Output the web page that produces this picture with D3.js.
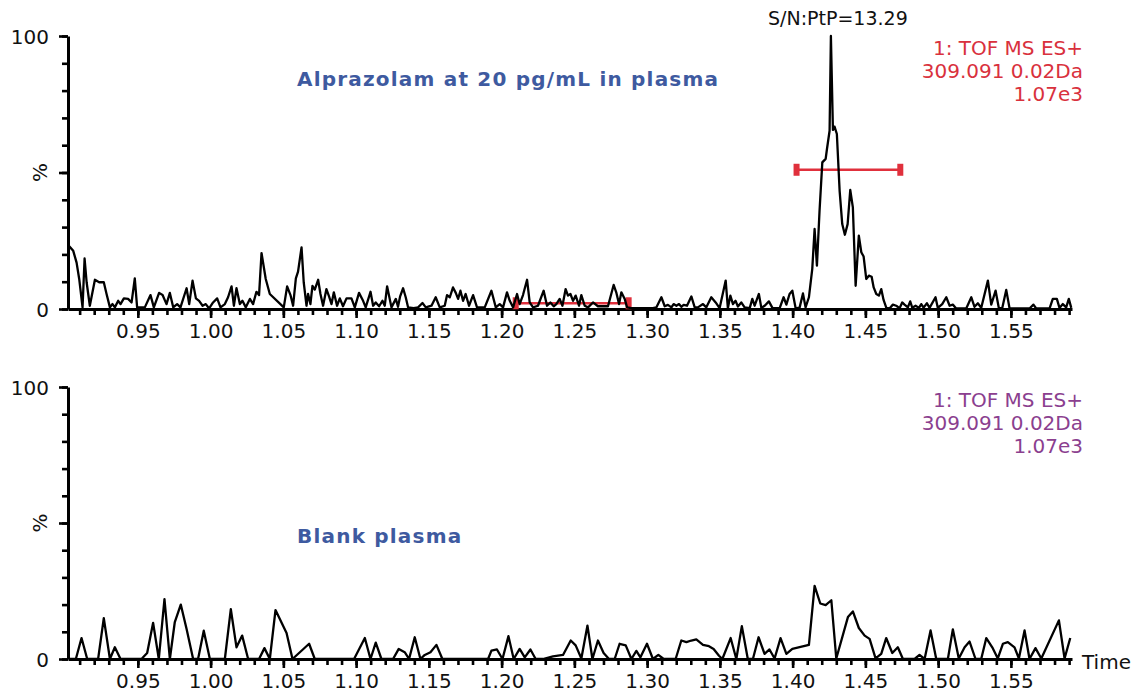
<!DOCTYPE html>
<html>
<head>
<meta charset="utf-8">
<script src="https://cdn.jsdelivr.net/npm/d3@7/dist/d3.min.js"></script>
<style>
body { margin: 0; background: #fff; }
svg { display: block; font-family: 'DejaVu Sans', Verdana, sans-serif; }
</style>
</head>
<body>
<svg></svg>
<script>
// retention time (min) and relative intensity (%)
const sampleTime = [0.9021,0.9056,0.9079,0.9097,0.9120,0.9134,0.9148,0.9170,0.9205,0.9234,0.9266,0.9285,0.9308,0.9326,0.9342,0.9365,0.9381,0.9404,0.9433,0.9457,0.9479,0.9495,0.9548,0.9587,0.9610,0.9646,0.9670,0.9697,0.9720,0.9743,0.9770,0.9793,0.9835,0.9853,0.9876,0.9899,0.9921,0.9945,0.9967,0.9990,1.0017,1.0045,1.0068,1.0098,1.0120,1.0144,1.0160,1.0178,1.0201,1.0219,1.0242,1.0270,1.0292,1.0315,1.0333,1.0350,1.0379,1.0407,1.0503,1.0526,1.0549,1.0567,1.0586,1.0601,1.0625,1.0640,1.0659,1.0670,1.0686,1.0700,1.0716,1.0739,1.0755,1.0773,1.0796,1.0814,1.0831,1.0847,1.0869,1.0888,1.0910,1.0934,1.0968,1.0991,1.1020,1.1048,1.1066,1.1099,1.1117,1.1135,1.1158,1.1181,1.1197,1.1213,1.1243,1.1273,1.1288,1.1302,1.1323,1.1341,1.1357,1.1396,1.1426,1.1456,1.1479,1.1518,1.1547,1.1575,1.1609,1.1625,1.1644,1.1666,1.1685,1.1701,1.1717,1.1735,1.1753,1.1776,1.1804,1.1831,1.1884,1.1930,1.1960,1.1987,1.2010,1.2037,1.2056,1.2079,1.2106,1.2124,1.2147,1.2175,1.2193,1.2216,1.2250,1.2289,1.2312,1.2335,1.2358,1.2376,1.2399,1.2418,1.2440,1.2456,1.2473,1.2491,1.2509,1.2532,1.2548,1.2571,1.2594,1.2628,1.2662,1.2697,1.2731,1.2770,1.2789,1.2807,1.2823,1.2846,1.2862,1.2892,1.3040,1.3064,1.3098,1.3121,1.3143,1.3167,1.3182,1.3201,1.3219,1.3235,1.3251,1.3274,1.3304,1.3327,1.3349,1.3384,1.3407,1.3441,1.3471,1.3498,1.3540,1.3555,1.3572,1.3590,1.3608,1.3624,1.3647,1.3670,1.3705,1.3723,1.3739,1.3768,1.3785,1.3808,1.3837,1.3861,1.3911,1.3938,1.3957,1.3979,1.3998,1.4021,1.4048,1.4071,1.4089,1.4112,1.4135,1.4151,1.4167,1.4185,1.4204,1.4227,1.4236,1.4254,1.4263,1.4277,1.4288,1.4304,1.4323,1.4341,1.4359,1.4378,1.4396,1.4414,1.4433,1.4455,1.4472,1.4488,1.4506,1.4524,1.4543,1.4557,1.4575,1.4593,1.4609,1.4625,1.4644,1.4666,1.4689,1.4712,1.4735,1.4753,1.4769,1.4792,1.4808,1.4822,1.4845,1.4868,1.4884,1.4900,1.4923,1.4941,1.4982,1.4998,1.5028,1.5056,1.5079,1.5101,1.5124,1.5193,1.5228,1.5250,1.5273,1.5296,1.5342,1.5365,1.5395,1.5417,1.5440,1.5468,1.5491,1.5628,1.5655,1.5674,1.5766,1.5788,1.5816,1.5834,1.5857,1.5880,1.5898,1.5915];
const samplePct = [23.4,21.3,17,11,0.6,18.5,9.8,1.2,10.7,9.8,9.8,5.5,0.6,1.8,0.6,3,1.8,3.9,3.7,2.4,11.2,0.6,0.6,5.1,0.6,5.9,5.1,1.8,5.9,0.6,1.8,0.6,7.6,1.8,10.4,3.9,3,1.2,1.8,0.2,2.4,3.9,0.6,1.8,4.3,8.3,1.2,7.6,1.8,3,0.6,3.7,1.8,6.3,5.1,20.5,11,5.5,0.6,8.3,5.1,1.2,11.2,13.7,22.6,9.8,1.2,5.5,1.8,8.5,7.1,10.7,5.5,1.2,7.3,4.6,1.8,6.1,1.2,3.9,1,3.9,3.9,0.6,5.9,3,0.6,6.3,1.2,2.4,1,3,1.2,8.3,0.6,3.7,0.8,4.5,7.6,4.3,0.6,0.3,0.6,2.2,0.6,1.2,4.3,0.6,1.2,5.1,4.3,7.9,5.9,3.7,6.7,3,5.5,1.2,5.1,0.6,0.6,6.7,0.6,1.8,0.6,6.1,3,0.6,5.5,1.8,5.1,10.7,2.4,0.6,1.2,6.7,1.2,2.4,1,1.8,3.7,1.2,7.3,4.9,5.5,3,4.9,1.2,5.1,1.2,0.6,2.4,1,1,1,8.8,5.9,1.8,6.1,3.7,0.6,0.3,0.3,0.6,4.3,1,1.5,0.6,1.8,1.2,1.8,0.8,1.5,1.2,4.6,0.6,0.6,1.8,0.6,4.3,2.4,0.3,10.4,0.3,4.9,1.8,3,0.9,2.4,0.6,0.3,3.7,1.2,5.5,0.4,1.2,2.8,0.4,0.3,4.3,1.6,5.5,6.7,0.2,0.5,5.7,0.6,4.3,14.7,29.3,15.9,36,53.7,55,58.6,65.3,100,65.6,66.8,64.1,43.3,31.1,27.2,31.1,43.6,37.2,8.5,26.9,20.8,19.2,11,12.2,11.8,7.9,5.5,4.9,7.3,3.3,0.4,0.2,1.6,1.2,0.3,2.4,1.6,0.6,2.8,0.5,1.2,0.4,1.8,0.5,2.1,0.4,4.3,0.4,1.8,4.3,1.2,1.6,0.2,0.2,4.3,0.8,2.1,0.4,10.4,1.6,6.7,0.4,0.2,7,0.2,0.2,1.6,0.2,0.2,3.7,3.7,0.4,1.8,0.6,3.7,0.4];

const blankTime = [0.9033,0.9074,0.9113,0.9152,0.9227,0.9266,0.9308,0.9342,0.9381,0.9525,0.9564,0.9605,0.9644,0.9683,0.9720,0.9754,0.9795,0.9835,0.9880,0.9914,0.9953,0.9995,1.0098,1.0139,1.0178,1.0217,1.0258,1.0333,1.0370,1.0407,1.0446,1.0522,1.0563,1.0677,1.0716,1.0986,1.1060,1.1099,1.1135,1.1174,1.1254,1.1293,1.1334,1.1364,1.1403,1.1442,1.1472,1.1511,1.1552,1.1593,1.1907,1.1930,1.1968,1.2006,1.2047,1.2083,1.2124,1.2159,1.2198,1.2234,1.2284,1.2353,1.2422,1.2475,1.2509,1.2548,1.2590,1.2624,1.2662,1.2701,1.2738,1.2777,1.2811,1.2853,1.2892,1.2926,1.2954,1.2999,1.3040,1.3077,1.3114,1.3196,1.3235,1.3270,1.3304,1.3338,1.3384,1.3425,1.3457,1.3494,1.3517,1.3574,1.3613,1.3651,1.3692,1.3727,1.3766,1.3807,1.3841,1.3876,1.3917,1.3957,1.3998,1.4112,1.4151,1.4190,1.4227,1.4266,1.4300,1.4380,1.4414,1.4455,1.4495,1.4529,1.4570,1.4609,1.4643,1.4685,1.4723,1.4758,1.4838,1.4872,1.4907,1.4948,1.4987,1.5067,1.5101,1.5142,1.5182,1.5216,1.5257,1.5296,1.5331,1.5372,1.5410,1.5445,1.5479,1.5525,1.5555,1.5594,1.5628,1.5669,1.5709,1.5830,1.5869,1.5908];
const blankPct = [0,0,7.7,0,0,15,0,4.3,0,0,2.2,13.3,0,22,0,13.6,20,11,0,0,10.4,0,0,18.3,4.3,8.6,0,0,4,0,18,9.6,0,5.6,0,0,7.7,0,6,0,0,3.7,2.5,0,8,0,1.5,2.5,5.2,0,0,3.1,3.5,0,8.4,0,3.7,0.6,3.5,0,0,1,1.5,6.8,5,0.2,12.3,0,6.8,2.2,0,0,5.6,5,0,3,0.6,5.6,0,1.5,0,0,6.8,6.2,6.8,7.2,5.2,4.7,3.7,1.2,0,7.7,0,12.1,0,0,8,1.9,3.5,0.2,7.7,1.9,3.7,5.2,26.9,20.4,19.8,21.6,0.2,15.4,17.5,11.4,8.6,7.4,0.2,1.9,7.7,2.2,4.3,0,0,1.5,0,10.5,0,0,10.9,0.2,4.3,6.4,0,0,7.7,4.3,0.2,5.6,6.2,4.3,0.2,10.5,0,4,0.2,14.2,0.2,7.7];

// signal-to-noise markers
const noiseRange = [1.2097, 1.2873];
const noiseLevel = 2.1;
const widthRange = [1.4027, 1.4740];
const widthLevel = 51;
const snText = 'S/N:PtP=13.29';

const xTicks = [0.95, 1.00, 1.05, 1.10, 1.15, 1.20, 1.25, 1.30, 1.35, 1.40, 1.45, 1.50, 1.55];
const xMinor = d3.range(0.91, 1.595, 0.01);
const yTicks = [0, 50, 100];
const yMinor = d3.range(0, 101, 10);
const infoLines = ['1: TOF MS ES+', '309.091 0.02Da', '1.07e3'];

const size = {w: 1136, h: 696};
const svg = d3.select('svg').attr('width', size.w).attr('height', size.h);

const x = d3.scaleLinear().domain([0.902, 1.592]).range([68, 1072]);

const panels = [
    {top: 36, base: 309, t: sampleTime, v: samplePct, color: '#d9313d',
        title: 'Alprazolam at 20 pg/mL in plasma', titleY: 86, infoY: 55},
    {top: 387, base: 659, t: blankTime, v: blankPct, color: '#8b3f8f',
        title: 'Blank plasma', titleY: 543, infoY: 407}
];

panels.forEach(function(p, i) {
    const g = svg.append('g');
    const y = d3.scaleLinear().domain([0, 100]).range([p.base, p.top]);

    // y axis
    g.append('g')
        .attr('transform', 'translate(68,0)')
        .call(d3.axisLeft(y).tickValues(yMinor).tickSize(6).tickFormat(''))
        .call(a => a.select('.domain').remove());
    g.append('g')
        .attr('transform', 'translate(68,0)')
        .call(d3.axisLeft(y).tickValues(yTicks).tickSize(9).tickSizeOuter(0)
            .tickFormat(d => d === 50 ? '' : d))
        .call(a => a.selectAll('text').attr('x', -19).attr('dy', '0.36em'));

    // x axis
    g.append('g')
        .attr('transform', `translate(0,${p.base})`)
        .call(d3.axisBottom(x).tickValues(xMinor).tickSize(6).tickFormat(''))
        .call(a => a.select('.domain').remove());
    g.append('g')
        .attr('transform', `translate(0,${p.base})`)
        .call(d3.axisBottom(x).tickValues(xTicks).tickSize(9).tickSizeOuter(0)
            .tickFormat(d3.format('.2f')))
        .call(a => a.selectAll('text').attr('y', 15));

    g.selectAll('.tick line').attr('stroke', '#000').attr('stroke-width', 2.6);
    g.selectAll('.domain').attr('stroke', '#000').attr('stroke-width', 3);
    g.selectAll('.tick text').attr('font-size', 20).attr('fill', '#111')
        .attr('font-family', "'DejaVu Sans', Verdana, sans-serif");

    g.append('text')
        .attr('transform', `translate(47,${y(50)}) rotate(-90)`)
        .attr('text-anchor', 'middle')
        .attr('font-size', 20)
        .attr('fill', '#111')
        .text('%');

    // red S/N markers on the sample trace
    if (i === 0) {
        const marks = [[noiseRange, noiseLevel], [widthRange, widthLevel]];
        marks.forEach(function(m) {
            g.append('line')
                .attr('x1', x(m[0][0])).attr('x2', x(m[0][1]))
                .attr('y1', y(m[1])).attr('y2', y(m[1]))
                .attr('stroke', '#e0303c').attr('stroke-width', 2.5);
            g.selectAll(null).data(m[0]).join('rect')
                .attr('x', d => x(d) - 3).attr('y', y(m[1]) - 6)
                .attr('width', 6).attr('height', 12)
                .attr('fill', '#e0303c');
        });
    }

    const line = d3.line().x(d => x(d[0])).y(d => y(d[1]));
    g.append('path')
        .datum(d3.zip(p.t, p.v))
        .attr('d', line)
        .attr('fill', 'none')
        .attr('stroke', '#000')
        .attr('stroke-width', 2.3)
        .attr('stroke-linejoin', 'round');

    g.append('text')
        .attr('x', 297).attr('y', p.titleY)
        .attr('font-size', 20).attr('font-weight', 'bold')
        .attr('letter-spacing', 1.2)
        .attr('fill', '#3e5aa0')
        .text(p.title);

    g.selectAll('.info').data(infoLines).join('text')
        .attr('x', 1083).attr('y', (d, j) => p.infoY + j * 23)
        .attr('text-anchor', 'end')
        .attr('font-size', 20)
        .attr('fill', p.color)
        .text(d => d);
});

svg.append('text')
    .attr('x', 768).attr('y', 25)
    .attr('font-size', 19).attr('fill', '#111')
    .text(snText);

svg.append('text')
    .attr('x', 1082).attr('y', 669)
    .attr('font-size', 20).attr('fill', '#111')
    .text('Time');
</script>
</body>
</html>
